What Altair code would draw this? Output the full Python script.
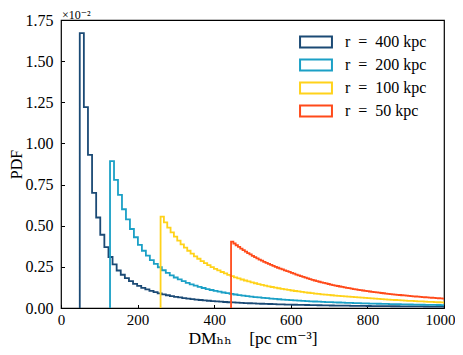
import altair as alt
import pandas as pd

series_labels = ["r\u2002=\u2002400 kpc", "r\u2002=\u2002200 kpc", "r\u2002=\u2002100 kpc", "r\u2002=\u200250 kpc"]
series_colors = ["#1b4a75", "#1ba0c6", "#ffd21a", "#ff4a1a"]
bin_starts = [49.0, 128.0, 260.0, 444.0]
bin_widths = [10.7, 10.4, 8.7, 6.0]

pdf_r400 = [1.67, 1.22, 0.93, 0.70, 0.55, 0.445, 0.37, 0.31, 0.265, 0.228,
            0.202, 0.181, 0.163, 0.147, 0.134, 0.1226, 0.1126, 0.1038, 0.0961, 0.0892,
            0.0831, 0.0776, 0.0726, 0.0682, 0.0641, 0.0604, 0.0571, 0.054, 0.0512, 0.0486,
            0.0462, 0.044, 0.0419, 0.040, 0.0383, 0.0366, 0.035, 0.0336, 0.0322, 0.031, 0.0298,
            0.0288, 0.0278, 0.0268, 0.0259, 0.0250, 0.0242, 0.0234, 0.0226, 0.0218, 0.0211, 0.0204,
            0.0198, 0.0193, 0.0187, 0.0182, 0.0177, 0.0172, 0.0167, 0.0162, 0.0157,
            0.0153, 0.0149, 0.0146, 0.0142, 0.0139, 0.0135, 0.0132, 0.0129, 0.0126,
            0.0122, 0.0120, 0.0117, 0.0115, 0.0112, 0.0110, 0.0107, 0.0105, 0.0103, 0.0101,
            0.0099, 0.0097, 0.0095, 0.0093, 0.0091, 0.0089, 0.0088, 0.0086, 0.0084]

pdf_r200 = [0.893, 0.778, 0.687, 0.60, 0.539, 0.48, 0.43, 0.383,
            0.348, 0.318, 0.2915, 0.268, 0.2476, 0.2294, 0.2131, 0.1984,
            0.1853, 0.1734, 0.1627, 0.1529, 0.144, 0.1358, 0.1284, 0.1215,
            0.1152, 0.1094, 0.104, 0.099, 0.0943, 0.090, 0.0859, 0.0821,
            0.0786, 0.0753, 0.0723, 0.0694, 0.0666, 0.0641, 0.0617, 0.0594,
            0.0572, 0.0552, 0.0532, 0.0514, 0.0496, 0.048, 0.0464, 0.0449,
            0.0435, 0.0421, 0.0408, 0.0396, 0.0384, 0.0373, 0.0363, 0.0352,
            0.0342, 0.0333, 0.0324, 0.0315, 0.0307,
            0.0299, 0.0291, 0.0284, 0.0277, 0.0270, 0.0263, 0.0257, 0.0251, 0.0245, 0.0239,
            0.0233, 0.0228, 0.0223, 0.0218, 0.0213, 0.0208, 0.0204, 0.0199, 0.0195, 0.0191,
            0.0187, 0.0183, 0.0179]

pdf_r100 = [0.555, 0.5202, 0.4886, 0.4597, 0.4334, 0.4092, 0.3871, 0.3666, 0.3478, 0.3303,
            0.3142, 0.2992, 0.2852, 0.2722, 0.2601, 0.2488, 0.2382, 0.2282, 0.2189, 0.2101,
            0.2018, 0.1941, 0.1867, 0.1798, 0.1732, 0.1670, 0.1612, 0.1556, 0.1503, 0.1453,
            0.1405, 0.1360, 0.1317, 0.1275, 0.1236, 0.1199, 0.1163, 0.1128, 0.1096, 0.1064,
            0.1034, 0.1006, 0.0978, 0.0951, 0.0926, 0.0902, 0.0878, 0.0856, 0.0834, 0.0813,
            0.0793, 0.0774, 0.0755, 0.0737, 0.0720, 0.0703, 0.0687, 0.0671, 0.0656, 0.0641,
            0.0627, 0.0614, 0.0597, 0.0582, 0.0567, 0.0553, 0.0539, 0.0525, 0.0512, 0.0499,
            0.0486, 0.0474, 0.0462, 0.0450, 0.0439, 0.0428, 0.0418, 0.0407, 0.0397, 0.0387,
            0.0378, 0.0368, 0.0359, 0.0350, 0.0342, 0.0334]

pdf_r50 = [0.403, 0.3919, 0.3812, 0.3709, 0.3610, 0.3516, 0.3425, 0.3337, 0.3253, 0.3172,
           0.3094, 0.3018, 0.2945, 0.2875, 0.2807, 0.2742, 0.2679, 0.2618, 0.2559, 0.2502,
           0.2447, 0.2393, 0.2341, 0.2291, 0.2243, 0.2196, 0.2140, 0.2085, 0.2033, 0.1982,
           0.1933, 0.1886, 0.1840, 0.1796, 0.1753, 0.1712, 0.1672, 0.1633, 0.1596, 0.1560,
           0.1525, 0.1491, 0.1458, 0.1426, 0.1395, 0.1365, 0.1336, 0.1307, 0.1280, 0.1253,
           0.1227, 0.1202, 0.1177, 0.1153, 0.1130, 0.1107, 0.1085, 0.1064, 0.1043, 0.1023,
           0.1003, 0.0984, 0.0965, 0.0947, 0.0929, 0.0912, 0.0895, 0.0879, 0.0863, 0.0847,
           0.0832, 0.0817, 0.0803, 0.0789, 0.0775, 0.0762, 0.0749, 0.0736, 0.0723, 0.0711,
           0.0699, 0.0687, 0.0676, 0.0665, 0.0654, 0.0643, 0.0633, 0.0623, 0.0613, 0.0603,
           0.0593, 0.0584, 0.0575]

x_ticks = [0, 200, 400, 600, 800, 1000]
y_ticks = [0.0, 0.25, 0.5, 0.75, 1.0, 1.25, 1.5, 1.75]
exponent_label = ["×10⁻²"]
x_title = "DMₕₕ\u2003[pc cm⁻³]"
y_title = "PDF"

all_vals = [pdf_r400, pdf_r200, pdf_r100, pdf_r50]
rows = []
for label, start, w, vals in zip(series_labels, bin_starts, bin_widths, all_vals):
    rows.append({"series": label, "dm": start, "pdf": 0.0, "i": 0})
    for k, v in enumerate(vals):
        rows.append({"series": label, "dm": start + k * w, "pdf": v, "i": k + 1})
    rows.append({"series": label, "dm": start + len(vals) * w, "pdf": vals[-1], "i": len(vals) + 1})
df = pd.DataFrame(rows)

FONT = "Liberation Serif, DejaVu Serif, serif"

xscale = alt.Scale(domain=[0, 1000], nice=False, zero=False)
yscale = alt.Scale(domain=[0, 1.75], nice=False, zero=False)

lines = alt.Chart(df).mark_line(interpolate="step-after", clip=True, strokeWidth=1.8).encode(
    x=alt.X("dm:Q", scale=xscale, title=x_title,
            axis=alt.Axis(values=x_ticks, format="d", tickSize=3.5, offset=-3.5, domain=False,
                          grid=False, labelPadding=4, titlePadding=2, tickColor="black",
                          labelFlush=False, labelOverlap=False, labelFontSize=15,
                          titleFontSize=17.5,
                          labelOffset={"condition": {"test": "datum.value == 1000", "value": -4},
                                       "value": 0})),
    y=alt.Y("pdf:Q", scale=yscale, title=y_title,
            axis=alt.Axis(values=y_ticks, format=".2f", tickSize=3.5, offset=-3.5, domain=False,
                          grid=False, labelPadding=8, titlePadding=1, tickColor="black",
                          labelFlush=False, labelOverlap=False, labelFontSize=16,
                          titleFontSize=16)),
    color=alt.Color("series:N",
                    scale=alt.Scale(domain=series_labels, range=series_colors),
                    legend=alt.Legend(orient="none", legendX=243, legendY=10, title=None,
                                      symbolType="M-1.45,-0.5H1.45V0.5H-1.45Z",
                                      symbolSize=484, symbolStrokeWidth=2,
                                      symbolFillColor="white",
                                      labelFont=FONT, labelFontSize=16, labelOffset=17,
                                      rowPadding=1, padding=0, labelColor="black")),
    order="i:Q",
)

expo = alt.Chart(pd.DataFrame({"t": exponent_label})).mark_text(
    align="left", baseline="alphabetic", font=FONT, fontSize=12, color="black"
).encode(x=alt.value(1), y=alt.value(-0.8), text="t:N")

chart = alt.layer(lines, expo).properties(
    width=383, height=288,
    autosize=alt.AutoSizeParams(type="none"),
    padding={"left": 53, "top": 12, "right": 11, "bottom": 44},
).configure_view(stroke="black", strokeWidth=1.2).configure_axis(
    labelFont=FONT, labelColor="black",
    titleFont=FONT, titleFontWeight="normal", titleColor="black",
)

chart.save("out.html", embed_options={"renderer": "svg", "actions": False})
